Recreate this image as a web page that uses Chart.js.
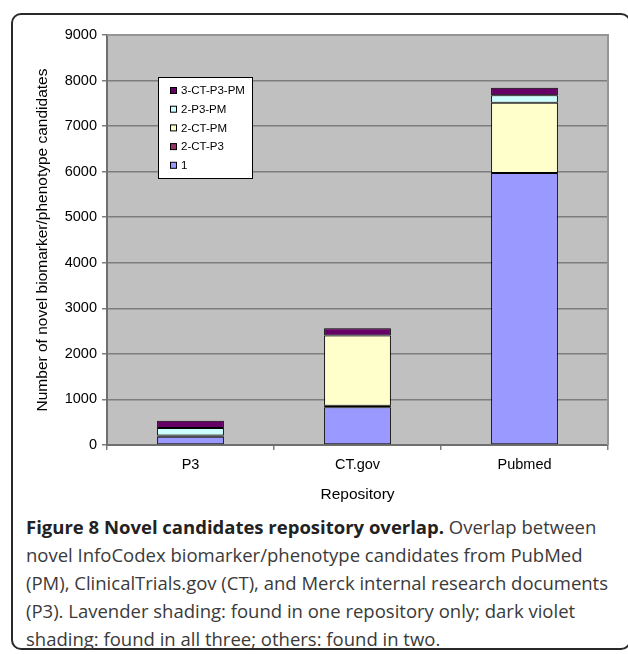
<!DOCTYPE html>
<html>
<head>
<meta charset="utf-8">
<script src="https://cdn.jsdelivr.net/npm/chart.js@4/dist/chart.umd.min.js"></script>
<style>
  html, body { margin: 0; padding: 0; background: #fff; }
  body { width: 628px; height: 654px; position: relative; overflow: hidden; }
  .frame {
    position: absolute; left: 11px; top: 13px; width: 620px; height: 637px;
    border: 2px solid #2a2a2a; border-radius: 10px; box-sizing: border-box;
  }
  #chart { position: absolute; left: 0; top: 0; }
  .caption {
    position: absolute; left: 26px; top: 513px; width: 600px;
    font-family: "Open Sans", "Noto Sans", sans-serif; font-size: 18.5px;
    line-height: 28px; color: #3a3a3a; white-space: nowrap;
  }
  .caption b { color: #222; }
</style>
</head>
<body>
<div class="frame"></div>
<canvas id="chart" width="628" height="510"></canvas>
<div class="caption">
  <b>Figure 8 Novel candidates repository overlap.</b> Overlap between<br>
  novel InfoCodex biomarker/phenotype candidates from PubMed<br>
  (PM), ClinicalTrials.gov (CT), and Merck internal research documents<br>
  (P3). Lavender shading: found in one repository only; dark violet<br>
  shading: found in all three; others: found in two.
</div>
<script>
const repositories = ['P3', 'CT.gov', 'Pubmed']
const seriesNames = ['1', '2-CT-P3', '2-CT-PM', '2-P3-PM', '3-CT-P3-PM']
const seriesColors = ['#9999FF', '#993366', '#FFFFCC', '#CCFFFF', '#660066']

// candidates per repository, one array per overlap group
const oneOnly = [180, 830, 5970]
const ctP3 = [30, 30, 0]
const ctPm = [0, 1545, 1545]
const p3Pm = [165, 0, 165]
const allThree = [160, 160, 160]
const seriesValues = [oneOnly, ctP3, ctPm, p3Pm, allThree]

const yTicks = [0, 1000, 2000, 3000, 4000, 5000, 6000, 7000, 8000, 9000]

const plotBackground = {
    id: 'plotBackground',
    beforeDraw(chart) {
        const {ctx, chartArea: a} = chart
        ctx.save()
        ctx.fillStyle = '#C0C0C0'
        ctx.fillRect(a.left, a.top, a.right - a.left, a.bottom - a.top)
        ctx.restore()
    },
    afterDatasetsDraw(chart) {
        const {ctx, chartArea: a} = chart
        ctx.save()
        ctx.strokeStyle = '#959595'
        ctx.lineWidth = 2
        ctx.beginPath()
        ctx.moveTo(a.left, a.top)
        ctx.lineTo(a.right, a.top)
        ctx.lineTo(a.right, a.bottom)
        ctx.stroke()
        ctx.restore()
    }
}

const boxLegend = {
    id: 'boxLegend',
    afterDraw(chart) {
        const ctx = chart.ctx
        const x = 158, y = 77, w = 94, h = 101
        ctx.save()
        ctx.fillStyle = '#fff'
        ctx.fillRect(x, y, w, h)
        ctx.strokeStyle = '#000'
        ctx.lineWidth = 1
        ctx.strokeRect(x + 0.5, y + 0.5, w, h)
        ctx.font = '11.5px "Liberation Sans", Arial, sans-serif'
        ctx.textBaseline = 'middle'
        const items = chart.data.datasets.slice().reverse()
        items.forEach((ds, i) => {
            const cy = 91 + i * 18.7
            ctx.fillStyle = ds.backgroundColor
            ctx.fillRect(170.5, cy - 3.5, 6, 6)
            ctx.strokeStyle = '#000'
            ctx.strokeRect(170.5, cy - 3.5, 6, 6)
            ctx.fillStyle = '#000'
            ctx.fillText(ds.label, 181, cy)
        })
        ctx.restore()
    }
}

const axisFont = {family: '"Liberation Sans", Arial, sans-serif', size: 14}

new Chart(document.getElementById('chart'), {
    type: 'bar',
    data: {
        labels: repositories,
        datasets: seriesNames.map((name, i) => ({
            label: name,
            data: seriesValues[i],
            backgroundColor: seriesColors[i],
            borderColor: '#000',
            borderWidth: 1,
            borderSkipped: false,
            barPercentage: 0.4,
            categoryPercentage: 1
        }))
    },
    options: {
        responsive: false,
        animation: false,
        layout: {padding: {top: 35, right: 20, bottom: 0, left: 0}},
        plugins: {
            legend: {display: false},
            tooltip: {enabled: false}
        },
        scales: {
            x: {
                stacked: true,
                afterFit: s => { s.height = 65 },
                grid: {
                    offset: true,
                    drawOnChartArea: false,
                    color: '#808080',
                    lineWidth: 1.5,
                    tickLength: 5
                },
                border: {color: '#6f6f6f', width: 2},
                ticks: {color: '#000', font: {family: axisFont.family, size: 14.5}, padding: 6},
                title: {
                    display: true,
                    text: 'Repository',
                    color: '#000',
                    font: {family: axisFont.family, size: 15.5},
                    padding: {top: 0, bottom: 6}
                }
            },
            y: {
                stacked: true,
                min: 0,
                max: 9000,
                afterFit: s => { s.width = 107 },
                afterBuildTicks: s => { s.ticks = yTicks.map(v => ({value: v})) },
                grid: {
                    color: '#7d7d7d',
                    lineWidth: 1.5,
                    tickLength: 5
                },
                border: {color: '#6f6f6f', width: 2},
                ticks: {
                    color: '#000',
                    font: {family: axisFont.family, size: 14.5},
                    padding: 5,
                    callback: v => String(v)
                },
                title: {
                    display: true,
                    text: 'Number of novel biomarker/phenotype candidates',
                    color: '#000',
                    font: {family: axisFont.family, size: 15.5},
                    padding: {top: 33, bottom: 0}
                }
            }
        }
    },
    plugins: [plotBackground, boxLegend]
})
</script>
</body>
</html>
